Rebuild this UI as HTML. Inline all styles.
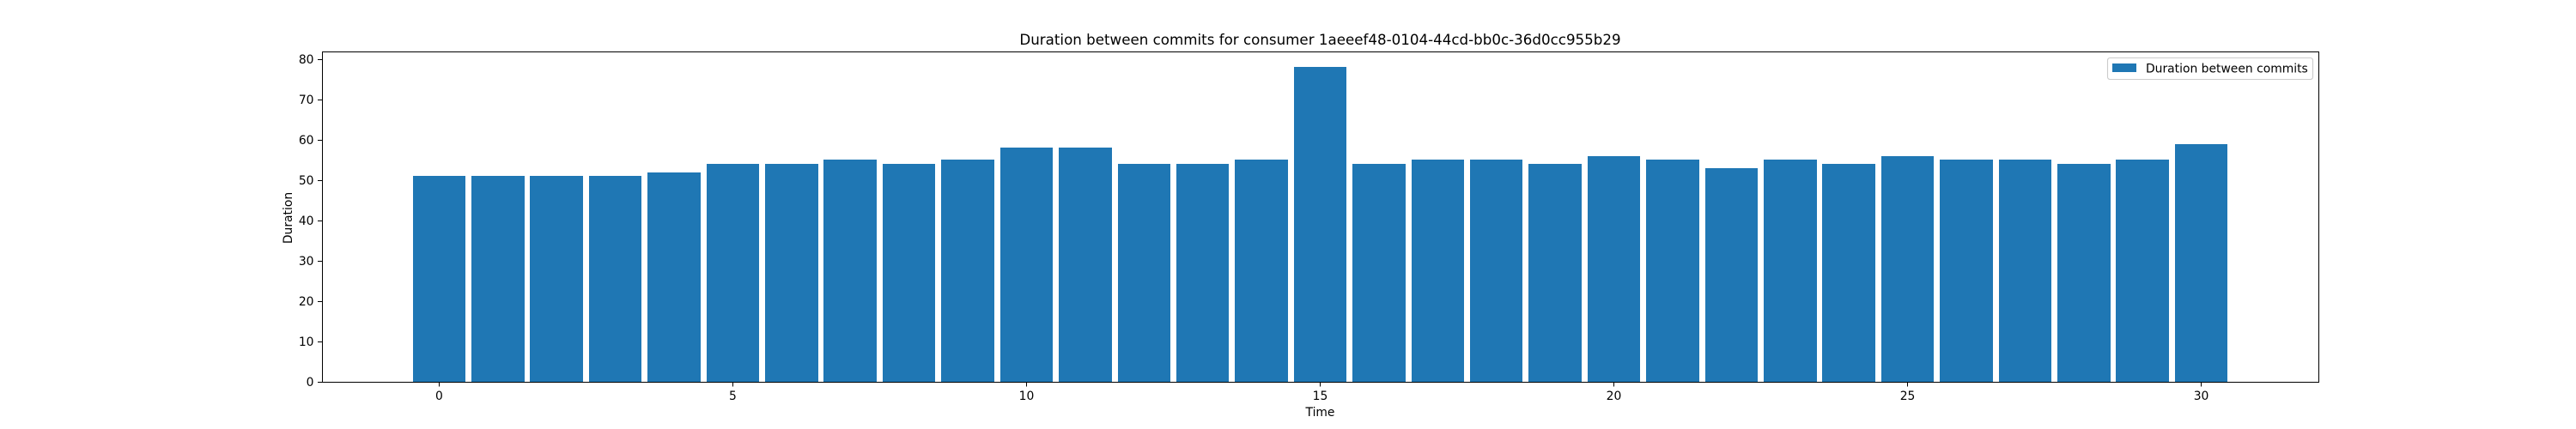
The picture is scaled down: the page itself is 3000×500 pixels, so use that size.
<!DOCTYPE html>
<html>
<head>
<meta charset="utf-8">
<title>Duration between commits</title>
<style>
html,body{margin:0;padding:0;background:#fff;width:3000px;height:500px;overflow:hidden}
svg{display:block}
text{font-family:"DejaVu Sans",sans-serif;fill:#000}
</style>
</head>
<body>
<svg id="chart" xmlns="http://www.w3.org/2000/svg" width="3000" height="500" viewBox="0 0 3000 500">
<rect x="0" y="0" width="3000" height="500" fill="#fff"/>
<g id="bars" shape-rendering="crispEdges"></g>
<g id="ticks"></g>
<g shape-rendering="crispEdges" stroke="#000" stroke-width="1" fill="none">
<line x1="375.5" y1="60" x2="375.5" y2="446"/>
<line x1="2700.5" y1="60" x2="2700.5" y2="446"/>
<line x1="375" y1="60.5" x2="2701" y2="60.5"/>
<line x1="375" y1="445.5" x2="2701" y2="445.5"/>
</g>
<text x="1537.5" y="52" text-anchor="middle" font-size="16.7">Duration between commits for consumer 1aeeef48-0104-44cd-bb0c-36d0cc955b29</text>
<text x="1537.5" y="485" text-anchor="middle" font-size="13.89">Time</text>
<text transform="translate(340 254) rotate(-90)" text-anchor="middle" font-size="13.89">Duration</text>
<g>
<rect x="2454.5" y="67.5" width="239" height="25" rx="2.8" ry="2.8" fill="#fff" fill-opacity="0.8" stroke="#ccc" stroke-width="1.1"/>
<rect x="2460" y="74" width="28" height="10" fill="#1f77b4" shape-rendering="crispEdges"/>
<text x="2499" y="84.5" font-size="13.89">Duration between commits</text>
</g>
</svg>
<script>
const durations = [51,51,51,51,52,54,54,55,54,55,58,58,54,54,55,78,54,55,55,54,56,55,53,55,54,56,55,55,54,55,59];
const xTickLabels = [0,5,10,15,20,25,30];
const yTickLabels = [0,10,20,30,40,50,60,70,80];
const barWidth = 0.9;

const NS = 'http://www.w3.org/2000/svg';
const plotLeft = 375, plotRight = 2700, plotTop = 60, plotBottom = 445;

const dataMinX = -barWidth / 2;
const dataMaxX = durations.length - 1 + barWidth / 2;
const marginX = (dataMaxX - dataMinX) * 0.05;
const xMin = dataMinX - marginX, xMax = dataMaxX + marginX;
const yMax = Math.max.apply(null, durations) * 1.05;

function xScale(v) { return plotLeft + (v - xMin) / (xMax - xMin) * (plotRight - plotLeft); }
function yScale(v) { return plotBottom - v / yMax * (plotBottom - plotTop); }

const barsGroup = document.getElementById('bars');
const ticksGroup = document.getElementById('ticks');

durations.forEach(function (value, i) {
  const left = Math.round(xScale(i - barWidth / 2));
  const right = Math.round(xScale(i + barWidth / 2));
  const top = Math.round(yScale(value));
  const bar = document.createElementNS(NS, 'rect');
  
  
  bar.setAttribute('x', left);
  bar.setAttribute('y', top);
  bar.setAttribute('width', right - left);
  bar.setAttribute('height', plotBottom - top);
  bar.setAttribute('fill', '#1f77b4');
  barsGroup.appendChild(bar);
});

xTickLabels.forEach(function (value) {
  const px = Math.floor(xScale(value)) + 0.5;
  const mark = document.createElementNS(NS, 'line');
  
  
  mark.setAttribute('x1', px);
  mark.setAttribute('x2', px);
  mark.setAttribute('y1', plotBottom);
  mark.setAttribute('y2', plotBottom + 5.4);
  mark.setAttribute('stroke', '#000');
  mark.setAttribute('stroke-width', 1);
  mark.setAttribute('shape-rendering', 'crispEdges');
  ticksGroup.appendChild(mark);
  const label = document.createElementNS(NS, 'text');
  
  
  label.setAttribute('x', xScale(value));
  label.setAttribute('y', 466);
  label.setAttribute('text-anchor', 'middle');
  label.setAttribute('font-size', '13.89');
  label.textContent = value;
  ticksGroup.appendChild(label);
});

yTickLabels.forEach(function (value) {
  const py = Math.round(yScale(value)) + 0.5;
  const mark = document.createElementNS(NS, 'line');
  
  
  mark.setAttribute('x1', plotLeft - 5);
  mark.setAttribute('x2', plotLeft);
  mark.setAttribute('y1', py);
  mark.setAttribute('y2', py);
  mark.setAttribute('stroke', '#000');
  mark.setAttribute('stroke-width', 1);
  mark.setAttribute('shape-rendering', 'crispEdges');
  ticksGroup.appendChild(mark);
  const label = document.createElementNS(NS, 'text');
  
  
  label.setAttribute('x', 365.5);
  label.setAttribute('y', yScale(value) + 5);
  label.setAttribute('text-anchor', 'end');
  label.setAttribute('font-size', '13.89');
  label.textContent = value;
  ticksGroup.appendChild(label);
});
</script>
</body>
</html>
